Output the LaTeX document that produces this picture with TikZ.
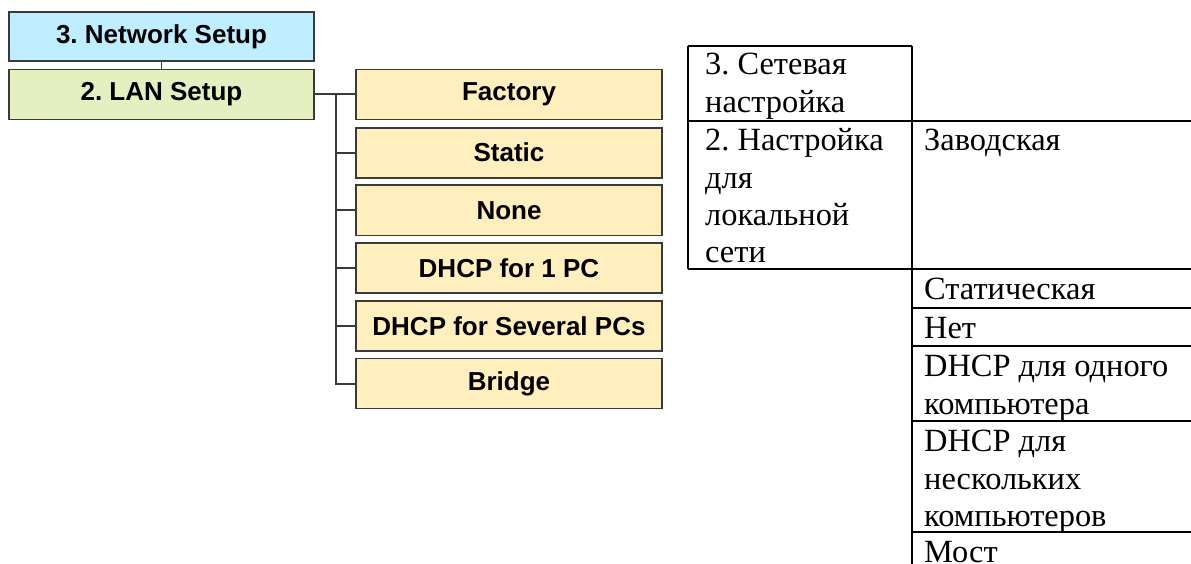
\documentclass[tikz,border=0pt]{standalone}
\usepackage{fontspec}
\setmainfont{Liberation Serif}
\newfontfamily\arialfont{Liberation Sans}
\newfontfamily\tnrfont{Liberation Serif}
\frenchspacing
\definecolor{netblue}{RGB}{190,238,255}
\definecolor{langreen}{RGB}{228,240,194}
\definecolor{optyellow}{RGB}{255,238,190}
\definecolor{boxline}{RGB}{58,58,58}
\tikzset{
  menubox/.style={draw=boxline, line width=1.8pt, rectangle, inner sep=0pt,
    minimum height=50pt, font=\arialfont\bfseries\fontsize{26}{31}\selectfont},
  topbox/.style={menubox, minimum width=305pt},
  optbox/.style={menubox, fill=optyellow, minimum width=306pt},
  link/.style={draw=boxline, line width=2pt},
  tabline/.style={draw=black, line width=1.9pt},
  cell/.style={anchor=north west, inner sep=0pt, align=left,
    font=\tnrfont\fontsize{32.4}{37.3}\selectfont}
}
\begin{document}
\begin{tikzpicture}[x=1pt,y=-1pt]
\useasboundingbox (0,0) rectangle (1191,564);
% ---- left: menu tree ----
\node[topbox, fill=netblue, minimum height=49pt] (net) at (161.5,36.3) {3. Network Setup};
\node[topbox, fill=langreen] (lan) at (161.5,94.5) {2. LAN Setup};
\node[optbox] (factory) at (509,94.5) {Factory};
\node[optbox] (static) at (509,152.7) {Static};
\node[optbox] (none) at (509,210.4) {None};
\node[optbox] (dhcpone) at (509,268.1) {DHCP for 1 PC};
\node[optbox] (dhcpsev) at (509,325.8) {DHCP for Several PCs};
\node[optbox] (bridge) at (509,383.5) {Bridge};
\coordinate (spine) at (336,94.5);
\draw[link, line width=1.5pt] (net.south) -- (lan.north);
\draw[link] (lan.east) -- (factory.west);
\draw[link] (spine) |- (bridge.west);
\foreach \n in {static,none,dhcpone,dhcpsev}{
  \draw[link] (spine |- \n.west) -- (\n.west);
}
% ---- right: table ----
\draw[tabline] (688,45.7) -- (912,45.7);
\draw[tabline] (688,45.7) -- (688,269.3);
\draw[tabline] (912,45.7) -- (912,564);
\draw[tabline] (688,120.7) -- (1191,120.7);
\draw[tabline] (688,269.3) -- (1191,269.3);
\draw[tabline] (912,307.7) -- (1191,307.7);
\draw[tabline] (912,346.3) -- (1191,346.3);
\draw[tabline] (912,421.3) -- (1191,421.3);
\draw[tabline] (912,532.3) -- (1191,532.3);
\node[cell] (t1) at (705,48.5) {\strut 3. Сетевая\\\strut настройка};
\node[cell] (t2) at (705,124.5) {\strut 2. Настройка\\\strut для\\\strut локальной\\\strut сети};
\node[cell] (t3) at (924,124.5) {\strut Заводская};
\node[cell] (t4) at (924,273.5) {\strut Статическая};
\node[cell] (t5) at (924,312) {\strut Нет};
\node[cell] (t6) at (924,350.5) {\strut DHCP для одного\\\strut компьютера};
\node[cell] (t7) at (924,425.5) {\strut DHCP для\\\strut нескольких\\\strut компьютеров};
\node[cell, anchor=base west] (t8) at (924,562) {Мост};
\end{tikzpicture}
\end{document}
